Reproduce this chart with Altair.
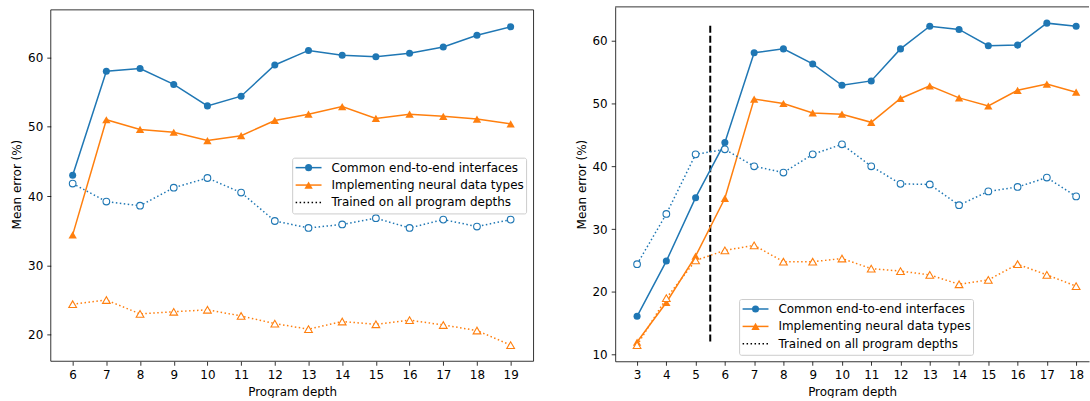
import altair as alt
import pandas as pd

# ---------------- data ----------------
depth_left = list(range(6, 20))
common_left = [43.0, 58.0, 58.4, 56.1, 53.0, 54.4, 58.9, 61.0, 60.3, 60.1, 60.6, 61.5, 63.2, 64.4]
implementing_left = [34.4, 51.0, 49.6, 49.2, 48.0, 48.7, 50.9, 51.8, 52.9, 51.2, 51.8, 51.5, 51.1, 50.4]
common_all_left = [41.8, 39.2, 38.6, 41.2, 42.6, 40.5, 36.4, 35.4, 35.9, 36.8, 35.4, 36.6, 35.6, 36.6]
implementing_all_left = [24.4, 25.0, 23.0, 23.3, 23.6, 22.7, 21.6, 20.8, 21.9, 21.5, 22.1, 21.4, 20.6, 18.5]

depth_right = list(range(3, 19))
common_right = [16.1, 24.9, 35.0, 43.8, 58.1, 58.7, 56.3, 52.9, 53.6, 58.7, 62.3, 61.8, 59.2, 59.3, 62.8, 62.3]
implementing_right = [12.0, 18.3, 25.7, 34.9, 50.7, 50.0, 48.5, 48.3, 47.0, 50.8, 52.8, 50.9, 49.6, 52.1, 53.1, 51.8]
common_all_right = [24.4, 32.4, 41.9, 42.7, 40.0, 39.0, 41.9, 43.5, 40.0, 37.2, 37.1, 33.8, 36.0, 36.7, 38.2, 35.2]
implementing_all_right = [11.5, 19.0, 25.0, 26.6, 27.4, 24.8, 24.8, 25.3, 23.7, 23.3, 22.7, 21.2, 21.9, 24.4, 22.7, 20.9]

cutoff_depth = [5.5]
cutoff_low = [12.1]
cutoff_high = [62.7]

series_labels = ["Common end-to-end interfaces",
                 "Implementing neural data types",
                 "Trained on all program depths"]
left_y_ticks = [20, 30, 40, 50, 60]
right_y_ticks = [10, 20, 30, 40, 50, 60]

# ---------------- styling ----------------
BLUE = "#1f77b4"
ORANGE = "#ff7f0e"
FONT = "DejaVu Sans"
FS = 12
DOT = [1.5, 2.5]


def one():
    return alt.Chart(pd.DataFrame({"k": [0]}))


def legend(x0, y0, w=235, h=56):
    rows = [y0 + 9.5, y0 + 27, y0 + 44.5]
    lx1, lx2, mx, tx = x0 + 3, x0 + 29, x0 + 16, x0 + 39
    layers = [
        one().mark_rect(fill="white", fillOpacity=0.8, stroke="#cccccc",
                        strokeWidth=1, cornerRadius=2).encode(
            x=alt.value(x0), x2=alt.value(x0 + w), y=alt.value(y0), y2=alt.value(y0 + h)),
        one().mark_rule(color=BLUE, strokeWidth=1.5).encode(
            x=alt.value(lx1), x2=alt.value(lx2), y=alt.value(rows[0])),
        one().mark_point(shape="circle", filled=True, size=50, color=BLUE, opacity=1).encode(
            x=alt.value(mx), y=alt.value(rows[0])),
        one().mark_rule(color=ORANGE, strokeWidth=1.5).encode(
            x=alt.value(lx1), x2=alt.value(lx2), y=alt.value(rows[1])),
        one().mark_point(shape="triangle-up", filled=True, size=70, color=ORANGE, opacity=1).encode(
            x=alt.value(mx), y=alt.value(rows[1])),
        one().mark_rule(color="black", strokeWidth=1.5, strokeDash=DOT).encode(
            x=alt.value(lx1), x2=alt.value(lx2), y=alt.value(rows[2])),
    ]
    for lab, ry in zip(series_labels, rows):
        layers.append(one().mark_text(align="left", baseline="middle", font=FONT,
                                      fontSize=FS, color="black").encode(
            x=alt.value(tx), y=alt.value(ry), text=alt.value(lab)))
    return layers


def panel(depths, c, i, ca, ia, xdom, ydom, yticks, width, height,
          leg_xy, left_frame, cutoff=False):
    df = pd.DataFrame({"depth": depths, "common": c, "implementing": i,
                       "common_all": ca, "implementing_all": ia})
    base = alt.Chart(df)
    show_domain = not left_frame
    X = alt.X("depth:Q", scale=alt.Scale(domain=xdom, nice=False, zero=False),
              axis=alt.Axis(values=depths, title="Program depth", domain=show_domain,
                            grid=False, format="d", titlePadding=6))

    def Y(f):
        return alt.Y(f + ":Q", scale=alt.Scale(domain=ydom, nice=False, zero=False),
                     axis=alt.Axis(values=yticks, title="Mean error (%)", domain=show_domain,
                                   grid=False, format="d"))

    layers = []
    if left_frame:
        layers.append(one().mark_rect(fillOpacity=0, stroke="black", strokeWidth=0.8).encode(
            x=alt.value(0), x2=alt.value(width), y=alt.value(3), y2=alt.value(height)))
    else:
        layers.append(one().mark_rule(color="black", strokeWidth=0.8).encode(
            x=alt.value(0), x2=alt.value(width), y=alt.value(0)))

    if cutoff:
        cdf = pd.DataFrame({"depth": cutoff_depth, "lo": cutoff_low, "hi": cutoff_high})
        layers.append(alt.Chart(cdf).mark_rule(color="black", strokeWidth=2,
                                               strokeDash=[7, 3]).encode(
            x=X, y=Y("lo"), y2="hi:Q"))

    # common (solid, filled circles)
    layers.append(base.mark_line(color=BLUE, strokeWidth=1.5).encode(x=X, y=Y("common")))
    layers.append(base.mark_point(shape="circle", filled=True, size=50, color=BLUE,
                                  opacity=1).encode(x=X, y=Y("common")))
    # implementing (solid, filled triangles)
    layers.append(base.mark_line(color=ORANGE, strokeWidth=1.5).encode(x=X, y=Y("implementing")))
    layers.append(base.mark_point(shape="triangle-up", filled=True, size=70, color=ORANGE,
                                  opacity=1).encode(x=X, y=Y("implementing")))
    # trained on all depths (dotted, open markers)
    layers.append(base.mark_line(color=BLUE, strokeWidth=1.5, strokeDash=DOT).encode(
        x=X, y=Y("common_all")))
    layers.append(base.mark_point(shape="circle", filled=True, fill="white", stroke=BLUE,
                                  strokeWidth=1.1, size=45, opacity=1).encode(
        x=X, y=Y("common_all")))
    layers.append(base.mark_line(color=ORANGE, strokeWidth=1.5, strokeDash=DOT).encode(
        x=X, y=Y("implementing_all")))
    layers.append(base.mark_point(shape="triangle-up", filled=True, fill="white", stroke=ORANGE,
                                  strokeWidth=1.1, size=60, opacity=1).encode(
        x=X, y=Y("implementing_all")))

    layers += legend(*leg_xy)
    return alt.layer(*layers).properties(width=width, height=height)


left = panel(depth_left, common_left, implementing_left, common_all_left, implementing_all_left,
             [5.35, 19.68], [16.17, 67.28], left_y_ticks, 485, 356, (243, 152), True)
right = panel(depth_right, common_right, implementing_right, common_all_right,
              implementing_all_right, [2.252, 18.44], [8.94, 65.39], right_y_ticks, 476, 356,
              (125, 294), False, cutoff=True)

chart = alt.hconcat(left, right, spacing=40).properties(
    padding={"left": 10, "top": 5, "right": 0, "bottom": 0}
).configure_view(stroke=None).configure_axis(
    labelFont=FONT, labelFontSize=FS, labelColor="black",
    titleFont=FONT, titleFontSize=FS, titleColor="black", titleFontWeight="normal",
    tickColor="black", tickWidth=0.8, tickSize=4, labelPadding=4,
    domainColor="black", domainWidth=0.8, titlePadding=4,
    labelFlush=False, labelOverlap=False,
)

chart.save("out.html", embed_options={"renderer": "svg", "actions": False})
